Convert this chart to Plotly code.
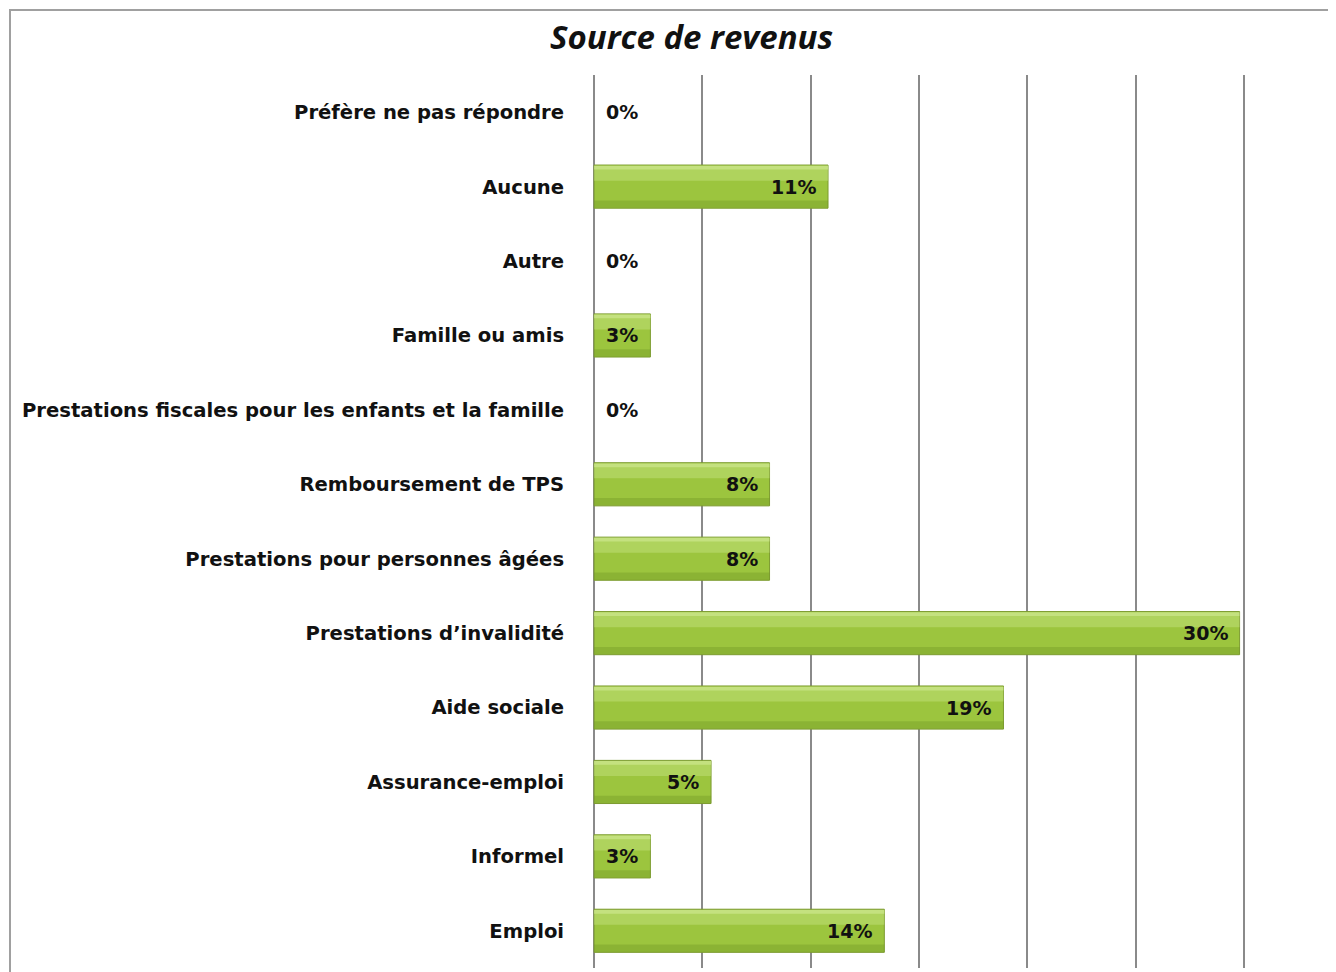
import plotly.graph_objects as go

categories = [
    "Emploi",
    "Informel",
    "Assurance-emploi",
    "Aide sociale",
    "Prestations d’invalidité",
    "Prestations pour personnes âgées",
    "Remboursement de TPS",
    "Prestations fiscales pour les enfants et la famille",
    "Famille ou amis",
    "Autre",
    "Aucune",
    "Préfère ne pas répondre",
]
values = [13.4, 2.6, 5.4, 18.9, 29.8, 8.1, 8.1, 0.0, 2.6, 0.0, 10.8, 0.0]
labels = ["14%", "3%", "5%", "19%", "30%", "8%", "8%", "0%", "3%", "0%", "11%", "0%"]
x_ticks = [0, 5, 10, 15, 20, 25, 30]

OFF = 8  # page body margin
W, H = 1336 - OFF, 972 - OFF
L, T = 593 - OFF, 75 - OFF
R = W - (1245 - OFF)
B = H - (968 - OFF)
pw, ph = W - L - R, H - T - B

line_w = [0 if v == 0 else 1 for v in values]

fig = go.Figure()
fig.add_trace(go.Bar(
    y=categories, x=values, orientation="h",
    marker=dict(color="#9cc53e", line=dict(color="#7d9c31", width=line_w)),
    width=0.58, hoverinfo="skip", showlegend=False,
))
# soft top highlight
fig.add_trace(go.Bar(
    y=categories, x=values, orientation="h",
    marker=dict(color="rgba(200,228,130,0.45)", line=dict(width=0)),
    width=0.2, offset=0.08, hoverinfo="skip", showlegend=False,
))
fig.add_trace(go.Bar(
    y=categories, x=values, orientation="h",
    marker=dict(color="rgba(210,235,150,0.6)", line=dict(width=0)),
    width=0.05, offset=0.23, hoverinfo="skip", showlegend=False,
))
# bottom shade
fig.add_trace(go.Bar(
    y=categories, x=values, orientation="h",
    marker=dict(color="rgba(110,145,35,0.35)", line=dict(width=0)),
    width=0.1, offset=-0.285, hoverinfo="skip", showlegend=False,
))

lab_font = dict(family="DejaVu Sans", size=19, color="#111111", weight="bold")
annotations = []
for c, v, t in zip(categories, values, labels):
    if v == 0:
        annotations.append(dict(x=0, y=c, xref="x", yref="y", text=t, showarrow=False,
                                xanchor="left", xshift=10, font=lab_font))
    else:
        annotations.append(dict(x=v, y=c, xref="x", yref="y", text=t, showarrow=False,
                                xanchor="right", xshift=-10, font=lab_font))

annotations.append(dict(x=(691 - 593) / pw, y=1 + (75 - 36) / ph, xref="paper", yref="paper",
                        text="<b><i>Source de revenus</i></b>", showarrow=False,
                        xanchor="center", yanchor="middle",
                        font=dict(family="Open Sans", size=33, color="#111111")))

fig.update_layout(
    width=W, height=H,
    margin=dict(l=L, r=R, t=T, b=B, autoexpand=False),
    paper_bgcolor="white", plot_bgcolor="white",
    barmode="overlay",
    annotations=annotations,
    shapes=[dict(type="rect", xref="paper", yref="paper",
                 x0=(10 - 593) / pw, x1=1.3, y0=-0.1, y1=1 + (75 - 10) / ph,
                 line=dict(color="#a0a0a0", width=2), layer="below")],
    xaxis=dict(range=[-0.05, 30.05], tickvals=x_ticks, showticklabels=False,
               showgrid=True, gridcolor="#8a8a8a", gridwidth=1.5, zeroline=False,
               showline=False, fixedrange=True),
    yaxis=dict(categoryorder="array", categoryarray=categories,
               tickfont=dict(family="DejaVu Sans", size=19.6, color="#111111", weight="bold"),
               ticks="outside", ticklen=24, tickcolor="rgba(0,0,0,0)",
               showgrid=False, zeroline=False, showline=False),
)

fig.write_html("out.html")
